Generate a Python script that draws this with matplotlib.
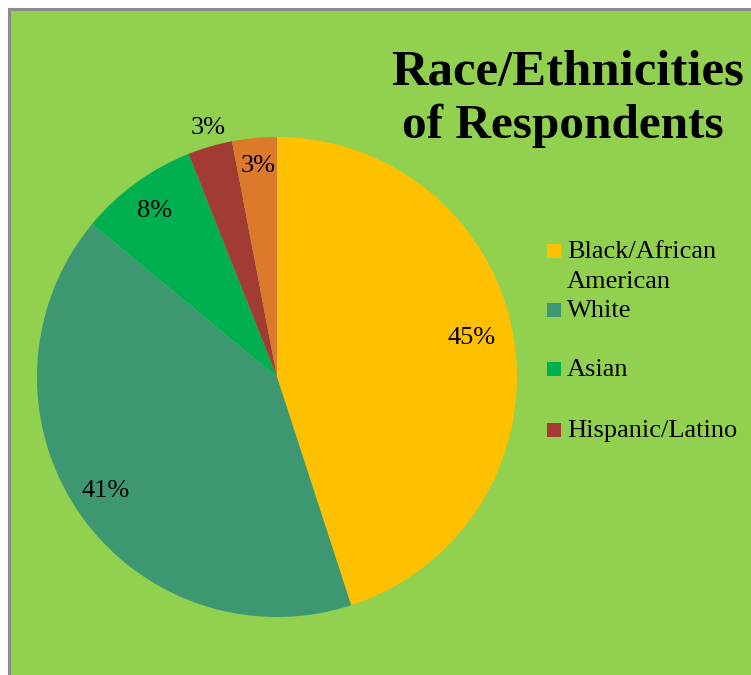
import matplotlib
matplotlib.use("Agg")
import matplotlib.pyplot as plt
from matplotlib.patches import Rectangle

categories = ["Black/African\nAmerican", "White", "Asian", "Hispanic/Latino", "Other"]
values = [45, 41, 8, 3, 3]
colors = ["#FFC000", "#3D9872", "#00B050", "#A33B35", "#DC7A2B"]
pct_labels = ["45%", "41%", "8%", "3%", "3%"]

W, H = 751, 675
fig = plt.figure(figsize=(W / 100, H / 100), dpi=100)
fig.patch.set_facecolor("white")

# green chart area with grey border (top and left visible)
bg = Rectangle((9 / W, -0.05), 1.1, (H - 9) / H + 0.05, transform=fig.transFigure,
               facecolor="#92D050", edgecolor="#8C8C8C", linewidth=2.2, zorder=-5)
fig.patches.append(bg)

serif = ["Liberation Serif", "DejaVu Serif"]

# pie axes: center (277,377), radius 240
cx, cy, r = 277, 377, 240
ax = fig.add_axes([(cx - r) / W, (H - cy - r) / H, 2 * r / W, 2 * r / H])
ax.set_zorder(2)
ax.set_facecolor("none")
wedges, _ = ax.pie(values, colors=colors, startangle=90, counterclock=False,
                   radius=1.0, wedgeprops=dict(linewidth=0))
ax.set_xlim(-1, 1)
ax.set_ylim(-1, 1)
ax.set_aspect("equal")
ax.axis("off")

# percentage labels (pixel positions in figure)
label_pos = [(472, 338), (106, 491), (155, 211), (208, 128), (258, 166)]
for (px, py), t in zip(label_pos, pct_labels):
    fig.text(px / W, 1 - py / H, t, ha="center", va="center",
             fontsize=19, family=serif, color="black", zorder=5)

# title
fig.text(568 / W, 1 - 85 / H, "Race/Ethnicities", ha="center", va="baseline",
         fontsize=36.5, fontweight="bold", family=serif, zorder=5)
fig.text(563 / W, 1 - 138 / H, "of Respondents", ha="center", va="baseline",
         fontsize=35.5, fontweight="bold", family=serif, zorder=5)

# legend (first four categories)
leg_y = [251, 310, 369, 430]
for i, yy in enumerate(leg_y):
    fig.patches.append(Rectangle((547 / W, 1 - (yy + 7) / H), 14 / W, 14 / H,
                                 transform=fig.transFigure, facecolor=colors[i],
                                 edgecolor="none", zorder=5))
    fig.text(567 / W, 1 - (yy + 7) / H, categories[i].split("\n")[0], ha="left",
             va="baseline", fontsize=19, family=serif, zorder=5)
    if "\n" in categories[i]:
        fig.text(567 / W, 1 - (yy + 37) / H, categories[i].split("\n")[1], ha="left",
                 va="baseline", fontsize=19, family=serif, zorder=5)

fig.savefig("out.png", dpi=100)
